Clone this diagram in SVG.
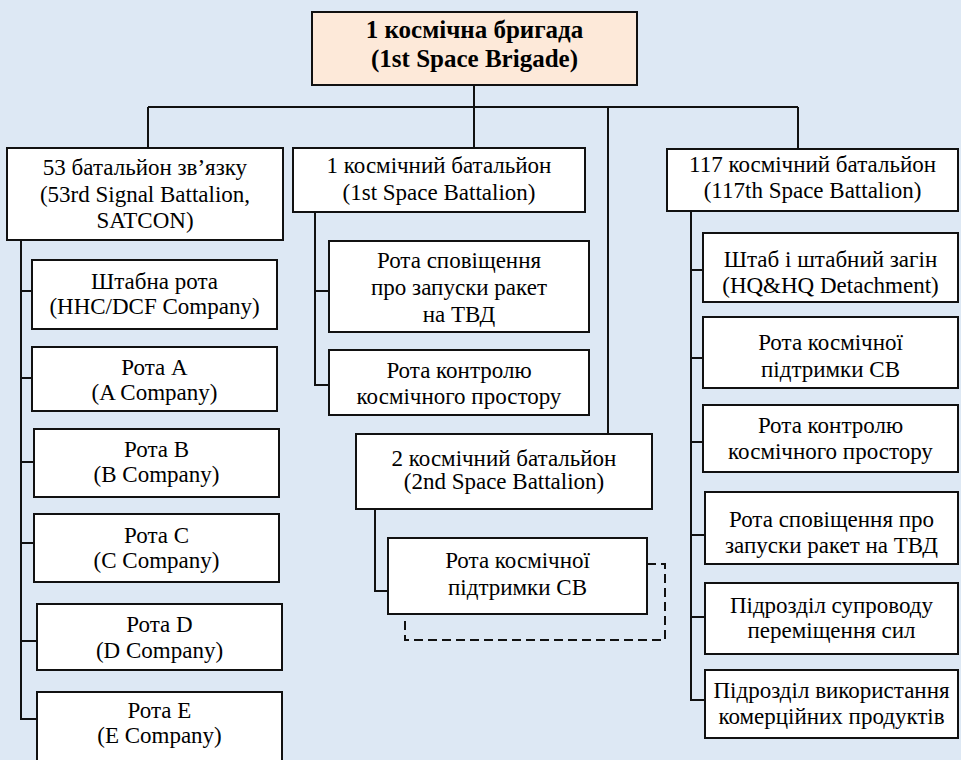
<svg xmlns="http://www.w3.org/2000/svg" width="961" height="760" viewBox="0 0 961 760">
<rect x="0" y="0" width="961" height="760" fill="#dde8f4"/>
<g id="connectors" fill="none" stroke="#111" stroke-width="2">
<path d="M474,85 V148 M148,107 H798 M148,107 V148 M608,107 V434 M798,107 V149"/>
<path d="M21,240 V719 H37 M21,291 H32 M21,378 H32 M21,462 H34 M21,543 H34 M21,641 H37"/>
<path d="M315,212 V385 H329 M315,291 H329"/>
<path d="M375,509 V591 H388"/>
<path d="M691,211 V700 H705 M691,270 H703 M691,358 H703 M691,442 H703 M691,535 H705 M691,617 H705"/>
<path d="M647,564 H665 V640 H405 V616" stroke-dasharray="9 5"/>
</g>
<g id="brigade"><rect x="312" y="12" width="325" height="73" fill="#fde9d9" stroke="#111" stroke-width="2"/><text x="474.5" y="38" font-size="25" font-weight="bold" font-family="Liberation Serif" text-anchor="middle">1 космічна бригада</text><text x="474.5" y="67" font-size="25" font-weight="bold" font-family="Liberation Serif" text-anchor="middle">(1st Space Brigade)</text></g>
<g id="bn53"><rect x="7" y="148" width="276" height="92" fill="#fff" stroke="#111" stroke-width="2"/><text x="145" y="175" font-size="23" font-family="Liberation Serif" text-anchor="middle">53 батальйон зв’язку</text><text x="145" y="202" font-size="23" font-family="Liberation Serif" text-anchor="middle">(53rd Signal Battalion,</text><text x="145" y="228" font-size="23" font-family="Liberation Serif" text-anchor="middle">SATCON)</text></g>
<g id="hhc"><rect x="32" y="260" width="245" height="69" fill="#fff" stroke="#111" stroke-width="2"/><text x="154.5" y="289" font-size="23" font-family="Liberation Serif" text-anchor="middle">Штабна рота</text><text x="154.5" y="314" font-size="23" font-family="Liberation Serif" text-anchor="middle">(HHC/DCF Company)</text></g>
<g id="coA"><rect x="32" y="347" width="245" height="64" fill="#fff" stroke="#111" stroke-width="2"/><text x="154.5" y="375" font-size="23" font-family="Liberation Serif" text-anchor="middle">Рота A</text><text x="154.5" y="400" font-size="23" font-family="Liberation Serif" text-anchor="middle">(A Company)</text></g>
<g id="coB"><rect x="34" y="429" width="245" height="68" fill="#fff" stroke="#111" stroke-width="2"/><text x="156.5" y="457" font-size="23" font-family="Liberation Serif" text-anchor="middle">Рота B</text><text x="156.5" y="482" font-size="23" font-family="Liberation Serif" text-anchor="middle">(B Company)</text></g>
<g id="coC"><rect x="34" y="514" width="245" height="68" fill="#fff" stroke="#111" stroke-width="2"/><text x="156.5" y="543" font-size="23" font-family="Liberation Serif" text-anchor="middle">Рота C</text><text x="156.5" y="568" font-size="23" font-family="Liberation Serif" text-anchor="middle">(C Company)</text></g>
<g id="coD"><rect x="37" y="604" width="245" height="66" fill="#fff" stroke="#111" stroke-width="2"/><text x="159.5" y="632" font-size="23" font-family="Liberation Serif" text-anchor="middle">Рота D</text><text x="159.5" y="658" font-size="23" font-family="Liberation Serif" text-anchor="middle">(D Company)</text></g>
<g id="coE"><rect x="37" y="692" width="245" height="80" fill="#fff" stroke="#111" stroke-width="2"/><text x="159.5" y="718" font-size="23" font-family="Liberation Serif" text-anchor="middle">Рота E</text><text x="159.5" y="743" font-size="23" font-family="Liberation Serif" text-anchor="middle">(E Company)</text></g>
<g id="bn1"><rect x="293" y="148" width="292" height="64" fill="#fff" stroke="#111" stroke-width="2"/><text x="439" y="173" font-size="23" font-family="Liberation Serif" text-anchor="middle">1 космічний батальйон</text><text x="439" y="200" font-size="23" font-family="Liberation Serif" text-anchor="middle">(1st Space Battalion)</text></g>
<g id="warn1"><rect x="329" y="241" width="260" height="91" fill="#fff" stroke="#111" stroke-width="2"/><text x="459" y="268" font-size="23" font-family="Liberation Serif" text-anchor="middle">Рота сповіщення</text><text x="459" y="295" font-size="23" font-family="Liberation Serif" text-anchor="middle">про запуски ракет</text><text x="459" y="322" font-size="23" font-family="Liberation Serif" text-anchor="middle">на ТВД</text></g>
<g id="ctrl1"><rect x="329" y="350" width="260" height="65" fill="#fff" stroke="#111" stroke-width="2"/><text x="459" y="378" font-size="23" font-family="Liberation Serif" text-anchor="middle">Рота контролю</text><text x="459" y="404" font-size="23" font-family="Liberation Serif" text-anchor="middle">космічного простору</text></g>
<g id="bn2"><rect x="356" y="434" width="296" height="75" fill="#fff" stroke="#111" stroke-width="2"/><text x="504" y="466" font-size="23" font-family="Liberation Serif" text-anchor="middle">2 космічний батальйон</text><text x="504" y="489" font-size="23" font-family="Liberation Serif" text-anchor="middle">(2nd Space Battalion)</text></g>
<g id="sup2"><rect x="388" y="538" width="259" height="76" fill="#fff" stroke="#111" stroke-width="2"/><text x="517.5" y="568" font-size="23" font-family="Liberation Serif" text-anchor="middle">Рота космічної</text><text x="517.5" y="595" font-size="23" font-family="Liberation Serif" text-anchor="middle">підтримки СВ</text></g>
<g id="bn117"><rect x="667" y="149" width="291" height="62" fill="#fff" stroke="#111" stroke-width="2"/><text x="812.5" y="172" font-size="23" font-family="Liberation Serif" text-anchor="middle">117 космічний батальйон</text><text x="812.5" y="198" font-size="23" font-family="Liberation Serif" text-anchor="middle">(117th Space Battalion)</text></g>
<g id="hq117"><rect x="703" y="233" width="255" height="69" fill="#fff" stroke="#111" stroke-width="2"/><text x="830.5" y="267" font-size="23" font-family="Liberation Serif" text-anchor="middle">Штаб і штабний загін</text><text x="830.5" y="293" font-size="23" font-family="Liberation Serif" text-anchor="middle">(HQ&amp;HQ Detachment)</text></g>
<g id="sup117"><rect x="703" y="317" width="255" height="71" fill="#fff" stroke="#111" stroke-width="2"/><text x="830.5" y="350" font-size="23" font-family="Liberation Serif" text-anchor="middle">Рота космічної</text><text x="830.5" y="377" font-size="23" font-family="Liberation Serif" text-anchor="middle">підтримки СВ</text></g>
<g id="ctrl117"><rect x="703" y="405" width="255" height="67" fill="#fff" stroke="#111" stroke-width="2"/><text x="830.5" y="433" font-size="23" font-family="Liberation Serif" text-anchor="middle">Рота контролю</text><text x="830.5" y="459" font-size="23" font-family="Liberation Serif" text-anchor="middle">космічного простору</text></g>
<g id="warn117"><rect x="705" y="492" width="253" height="72" fill="#fff" stroke="#111" stroke-width="2"/><text x="831.5" y="527" font-size="23" font-family="Liberation Serif" text-anchor="middle">Рота сповіщення про</text><text x="831.5" y="553" font-size="23" font-family="Liberation Serif" text-anchor="middle">запуски ракет на ТВД</text></g>
<g id="move117"><rect x="705" y="583" width="253" height="71" fill="#fff" stroke="#111" stroke-width="2"/><text x="831.5" y="613" font-size="23" font-family="Liberation Serif" text-anchor="middle">Підрозділ супроводу</text><text x="831.5" y="638" font-size="23" font-family="Liberation Serif" text-anchor="middle">переміщення сил</text></g>
<g id="com117"><rect x="705" y="670" width="253" height="68" fill="#fff" stroke="#111" stroke-width="2"/><text x="831.5" y="698" font-size="23" font-family="Liberation Serif" text-anchor="middle">Підрозділ використання</text><text x="831.5" y="724" font-size="23" font-family="Liberation Serif" text-anchor="middle">комерційних продуктів</text></g>
</svg>
